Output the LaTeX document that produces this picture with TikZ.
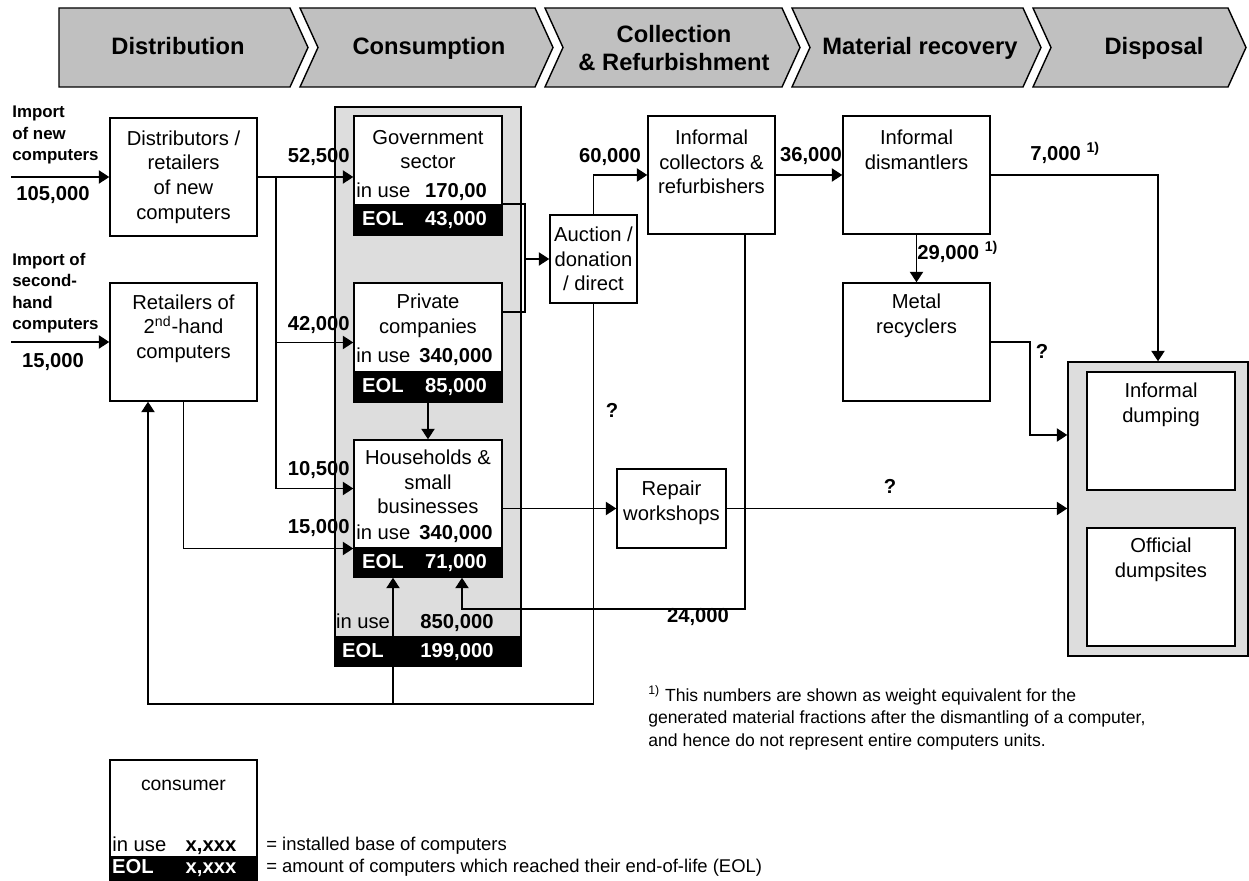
\documentclass[tikz,border=0pt]{standalone}
\usepackage{fontspec}
\setmainfont{Liberation Sans}
\usetikzlibrary{arrows.meta,calc}
\definecolor{chevgray}{RGB}{192,192,192}
\definecolor{boxgray}{RGB}{221,221,221}
\tikzset{
  box/.style={draw, fill=white, line width=0.8pt, inner sep=0pt},
  eolbar/.style={draw, fill=black, line width=0.8pt, inner sep=0pt},
  chev/.style={fill=chevgray, draw, line width=0.8pt},
  flow/.style={draw, line width=1.1pt, -{Triangle[length=6pt,width=7.5pt]}},
  txt/.style={font=\fontsize{11.5}{14}\selectfont, align=center, inner sep=0pt},
  row/.style={txt, anchor=west, text height=8.5pt, text depth=2.4pt},
  num/.style={font=\fontsize{11.5}{14}\selectfont\bfseries, inner sep=0pt, text height=8.5pt, text depth=2.4pt},
  wnum/.style={num, text=white},
  imp/.style={font=\fontsize{9.6}{12.2}\selectfont\bfseries, align=left, inner sep=0pt, anchor=west},
  head/.style={font=\fontsize{13.5}{15.5}\selectfont\bfseries, align=center, inner sep=0pt},
  onehead/.style={head, text height=10pt, text depth=2.8pt},
  note/.style={font=\fontsize{10}{12.8}\selectfont, align=left, inner sep=0pt, anchor=west},
}
\begin{document}
\begin{tikzpicture}[x=0.02cm, y=-0.02cm]
\useasboundingbox (0,0) rectangle (1249,881);
% life cycle stages
\filldraw[chev] (59,8) -- (290,8) -- (308,47.5) -- (290,87) -- (59,87) -- cycle;
\filldraw[chev] (300,8) -- (535,8) -- (553,47.5) -- (535,87) -- (300,87) -- (318,47.5) -- cycle;
\filldraw[chev] (545,8) -- (782,8) -- (800,47.5) -- (782,87) -- (545,87) -- (563,47.5) -- cycle;
\filldraw[chev] (792,8) -- (1023,8) -- (1041,47.5) -- (1023,87) -- (792,87) -- (810,47.5) -- cycle;
\filldraw[chev] (1033,8) -- (1228,8) -- (1246,47.5) -- (1228,87) -- (1033,87) -- (1051,47.5) -- cycle;
\node[onehead] (hdist) at (178,48) {Distribution};
\node[onehead] (hcons) at (429,48) {Consumption};
\node[head] (hcoll) at (674,48) {Collection\\\& Refurbishment};
\node[onehead] (hmat) at (920,48) {Material recovery};
\node[onehead] (hdisp) at (1154,48) {Disposal};

% distribution
\node[imp] (imp1) at (12,135) {Import\\of new\\computers};
\node[imp] (imp2) at (12,293) {Import of\\second-\\hand\\computers};
\node[box, txt, minimum width=2.94cm, minimum height=2.36cm] (dist) at (183.5,177) {Distributors /\\retailers\\of new\\computers};
\node[box, minimum width=2.94cm, minimum height=2.36cm] (ret) at (183.5,342) {};
\node[txt] (tret) at (183.5,328.5) {Retailers of\\2\textsuperscript{nd}-hand\\computers};
\coordinate (in1) at (11,177);
\coordinate (in2) at (11,342);
\draw[flow] (in1) -- (dist.west);
\draw[flow] (in2) -- (ret.west);
\node[num] (n105) at (53,195) {105,000};
\node[num] (n15a) at (53,362) {15,000};

% consumption
\node[draw, fill=boxgray, line width=0.8pt, minimum width=3.72cm, minimum height=11.18cm] (cons) at (428,386.5) {};
\node[eolbar, minimum width=3.72cm, minimum height=0.58cm] (toteol) at (428,651.5) {};
\node[box, minimum width=2.96cm, minimum height=2.38cm] (gov) at (428,175.5) {};
\node[eolbar, minimum width=2.96cm, minimum height=0.6cm] (goveol) at (428,220) {};
\node[box, minimum width=2.96cm, minimum height=2.38cm] (priv) at (428,342.5) {};
\node[eolbar, minimum width=2.96cm, minimum height=0.6cm] (priveol) at (428,387) {};
\node[box, minimum width=2.96cm, minimum height=2.74cm] (hh) at (428,508.5) {};
\node[eolbar, minimum width=2.96cm, minimum height=0.58cm] (hheol) at (428,562.5) {};
\node[txt] (tgov) at (428,149.5) {Government\\sector};
\node[txt] (tpriv) at (428,316) {Private\\companies};
\node[txt] (thh) at (428,482) {Households \&\\small\\businesses};
\node[row] (ugov) at (356,192) {in use};
\node[num] (vgov) at (456,192) {170,00};
\node[wnum] (egov) at (383,220) {EOL};
\node[wnum] (wgov) at (456,220) {43,000};
\node[row] (upriv) at (356,357) {in use};
\node[num] (vpriv) at (456,357) {340,000};
\node[wnum] (epriv) at (383,387) {EOL};
\node[wnum] (wpriv) at (456,387) {85,000};
\node[row] (uhh) at (356,534) {in use};
\node[num] (vhh) at (456,534) {340,000};
\node[wnum] (ehh) at (383,563) {EOL};
\node[wnum] (whh) at (456,563) {71,000};
\node[row, anchor=center] (utot) at (363,623) {in use};
\node[num] (vtot) at (457,623) {850,000};
\node[wnum] (etot) at (363,652) {EOL};
\node[wnum] (wtot) at (457,652) {199,000};

% collection, recovery, disposal
\node[box, txt, minimum width=1.74cm, minimum height=1.76cm] (auc) at (593.5,259) {Auction /\\donation\\/ direct};
\node[box, minimum width=2.54cm, minimum height=2.36cm] (col) at (711.5,175) {};
\node[txt] (tcol) at (711.5,162) {Informal\\collectors \&\\refurbishers};
\node[box, minimum width=2.18cm, minimum height=1.58cm] (rep) at (671.5,508.5) {};
\node[txt] (trep) at (671.5,502.5) {Repair\\workshops};
\node[box, minimum width=2.94cm, minimum height=2.36cm] (dism) at (916.5,175) {};
\node[txt] (tdism) at (916.5,149.5) {Informal\\dismantlers};
\node[box, minimum width=2.94cm, minimum height=2.36cm] (metal) at (916.5,342) {};
\node[txt] (tmetal) at (916.5,316) {Metal\\recyclers};
\node[draw, fill=boxgray, line width=0.8pt, minimum width=3.6cm, minimum height=5.88cm] (disp) at (1158,509) {};
\node[box, minimum width=2.96cm, minimum height=2.36cm] (dump) at (1161,431) {};
\node[txt] (tdump) at (1161,405) {Informal\\dumping};
\node[box, minimum width=2.96cm, minimum height=2.36cm] (offi) at (1161,587) {};
\node[txt] (toffi) at (1161,560) {Official\\dumpsites};

% flows
\coordinate (j1) at (276,177);
\coordinate (aj) at (525,259);
\coordinate (fb) at (393,703);
\draw[flow] (dist.east) -- (dist.east -| gov.west);
\draw[flow] (j1) |- (priv.west);
\draw[flow] (j1) |- ($(hh.west)+(0,-20)$);
\draw[flow] (ret.south) |- ($(hh.west)+(0,40)$);
\draw[flow] (priv.south) -- (hh.north);
\draw[line width=1.1pt] (goveol.north east) -| (aj) |- ($(priv.north east)+(0,30)$);
\draw[flow] (aj) -- (auc.west);
\draw[flow] (auc.north) |- (col.west);
\draw[flow] (auc.south) |- ($(ret.south)+(-35.5,302)$) -- ($(ret.south)+(-35.5,0)$);
\draw[flow] (fb) -- (fb |- hheol.south);
\draw[flow] (hh.east) -- (rep.west);
\draw[flow] (rep.east) -- (rep.east -| disp.west);
\draw[flow] ($(col.south)+(33.5,0)$) |- ($(hheol.south)+(34,31)$) -- ($(hheol.south)+(34,0)$);
\draw[flow] (col.east) -- (dism.west);
\draw[flow] (dism.east) -| (disp.north);
\draw[flow] (dism.south) -- (metal.north);
\draw[flow] (metal.east) -- ++(39,0) |- ($(disp.west)+(0,-74)$);

% amounts
\node[num, anchor=east] (n52) at (350,157) {52,500};
\node[num, anchor=east] (n42) at (350,325) {42,000};
\node[num, anchor=east] (n10) at (350,470) {10,500};
\node[num, anchor=east] (n15b) at (350,528) {15,000};
\node[num] (n60) at (610,157) {60,000};
\node[num] (n36) at (811,156) {36,000};
\node[num] (n24) at (698,617) {24,000};
\node[num, anchor=west] (n7) at (1030,155) {7,000 \textsuperscript{1)}};
\node[num, anchor=west] (n29) at (917,254) {29,000 \textsuperscript{1)}};
\node[num] (q1) at (612,412) {?};
\node[num] (q2) at (890,488) {?};
\node[num] (q3) at (1042,353) {?};

% footnote and legend
\node[note] (fn) at (648,718) {\textsuperscript{1)} This numbers are shown as weight equivalent for the\\generated material fractions after the dismantling of a computer,\\and hence do not represent entire computers units.};
\node[box, minimum width=2.94cm, minimum height=2.4cm] (leg) at (183.5,820) {};
\node[eolbar, minimum width=2.94cm, minimum height=0.46cm] (legeol) at (183.5,868.5) {};
\node[txt, font=\fontsize{11}{13}\selectfont] (tleg) at (183.5,785) {consumer};
\node[row] (uleg) at (112,846) {in use};
\node[num] (vleg) at (211,846) {x,xxx};
\node[wnum] (eleg) at (133,868) {EOL};
\node[wnum] (wleg) at (211,868) {x,xxx};
\node[note, font=\fontsize{10.5}{13}\selectfont] (l1) at (266,846) {= installed base of computers};
\node[note, font=\fontsize{10.5}{13}\selectfont] (l2) at (266,868) {= amount of computers which reached their end-of-life (EOL)};
\end{tikzpicture}
\end{document}
